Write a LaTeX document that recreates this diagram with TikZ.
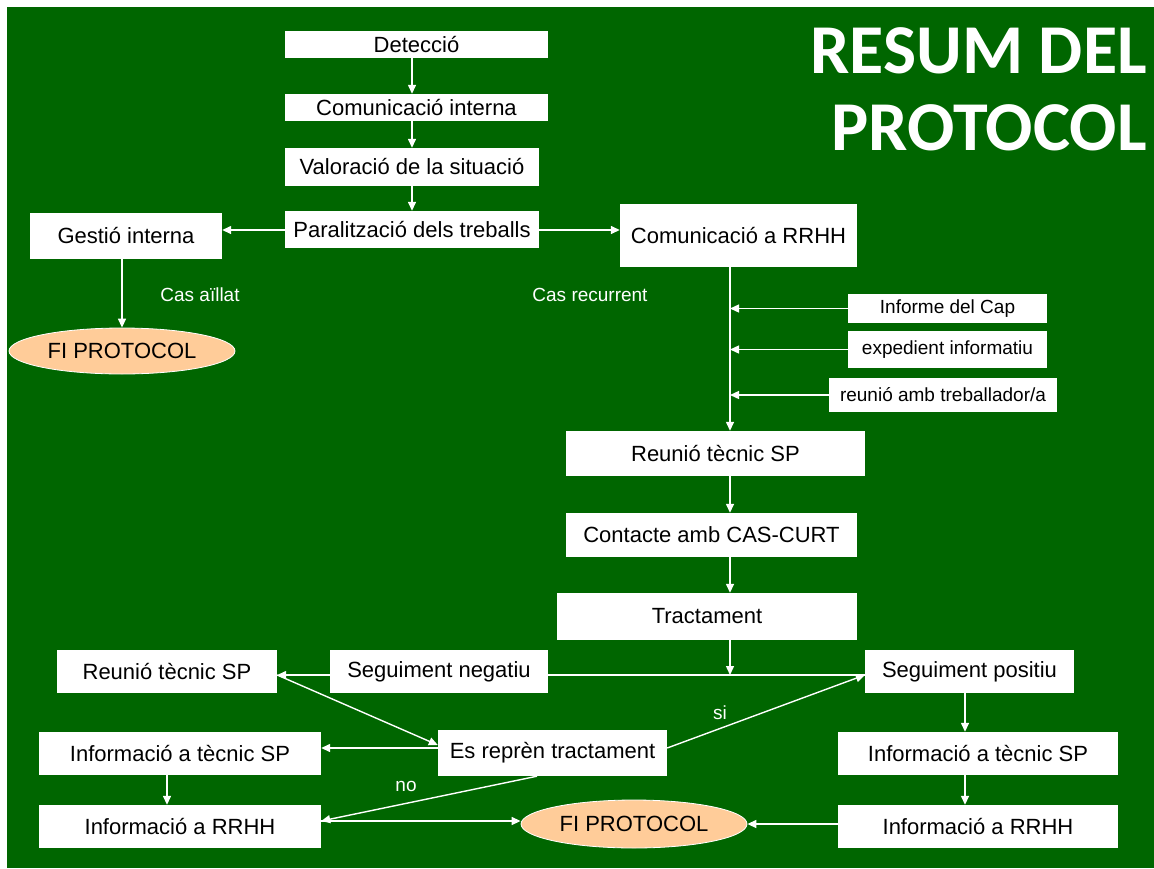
\documentclass[tikz,border=0pt]{standalone}
\usepackage{fontspec}
\setmainfont{Liberation Sans}
\newfontfamily\titlefont{Carlito}
\usetikzlibrary{arrows.meta,shapes.geometric,calc}
\definecolor{bggreen}{RGB}{0,102,0}
\definecolor{peach}{RGB}{255,204,153}
\begin{document}
\begin{tikzpicture}[x=1pt,y=-1pt,
  box/.style={fill=white,inner sep=0pt,font=\fontsize{22}{24}\selectfont,text=black},
  sbox/.style={fill=white,inner sep=0pt,font=\fontsize{19}{21}\selectfont,text=black},
  endell/.style={ellipse,fill=peach,draw=white,line width=0.8pt,inner sep=0pt,font=\fontsize{22}{24}\selectfont,text=black},
  lbl/.style={text=white,font=\fontsize{19}{21}\selectfont,inner sep=0pt},
  arr/.style={draw=white,line width=1.4pt,-{Triangle[length=9pt,width=8pt]}},
  ln/.style={draw=white,line width=1.4pt}]
\useasboundingbox (0,0) rectangle (1154,868);
\fill[white] (0,0) rectangle (1154,868);
\fill[bggreen] (7,7) rectangle (1154,868);
% helper to place boxes by corners
\newcommand{\bx}[7]{\node[#1,minimum width=#5-#3,minimum height=#6-#4] (#2) at ({(#3+#5)/2},{(#4+#6)/2}) {#7};}
\bx{box}{det}{285}{31}{548}{58}{Detecció}
\bx{box}{comi}{285}{94}{548}{121}{Comunicació interna}
\bx{box}{val}{285}{148}{539}{186}{Valoració de la situació}
\bx{box}{par}{285}{211}{539}{248}{Paralització dels treballs}
\bx{box}{gest}{30}{213}{222}{259}{Gestió interna}
\bx{box}{crrhh}{620}{204}{857}{267}{Comunicació a RRHH}
\bx{endell}{fiA}{9}{328}{235}{374}{FI PROTOCOL}
\bx{sbox}{infcap}{848}{294}{1047}{323}{Informe del Cap}
\bx{sbox}{exped}{848}{331}{1047}{368}{expedient informatiu}
\bx{sbox}{reutr}{829}{378}{1057}{412}{reunió amb treballador/a}
\bx{box}{reuT}{566}{431}{865}{476}{Reunió tècnic SP}
\bx{box}{cont}{566}{513}{857}{557}{Contacte amb CAS-CURT}
\bx{box}{trac}{557}{593}{857}{640}{Tractament}
\bx{box}{reuL}{57}{650}{277}{693}{Reunió tècnic SP}
\bx{box}{neg}{330}{650}{548}{693}{Seguiment negatiu}
\bx{box}{pos}{865}{650}{1074}{693}{Seguiment positiu}
\bx{box}{es}{438}{730}{667}{776}{Es reprèn tractament}
\bx{box}{infL}{39}{732}{321}{775}{Informació a tècnic SP}
\bx{box}{rrhhL}{39}{805}{321}{848}{Informació a RRHH}
\bx{endell}{fiB}{521}{800}{747}{848}{FI PROTOCOL}
\bx{box}{infR}{838}{732}{1118}{775}{Informació a tècnic SP}
\bx{box}{rrhhR}{838}{805}{1118}{848}{Informació a RRHH}
% labels
\node[lbl] (lais) at (200,295) {Cas aïllat};
\node[lbl] (lrec) at (590,295) {Cas recurrent};
\node[lbl] (lsi) at (720,713) {si};
\node[lbl] (lno) at (406,786) {no};
% title
\node[text=white,font=\titlefont\bfseries\fontsize{70}{72}\selectfont,anchor=base east,inner sep=0pt] (t1) at (1147,73) {RESUM DEL};
\node[text=white,font=\titlefont\bfseries\fontsize{70}{72}\selectfont,anchor=base east,inner sep=0pt] (t2) at (1147,150) {PROTOCOL};
% helper coordinates
\coordinate (ax) at (412,0);
\coordinate (bx) at (730,0);
\coordinate (cx) at (122,0);
\coordinate (lx) at (167,0);
\coordinate (rx) at (965,0);
\coordinate (yp) at (0,230);
\coordinate (yh) at (0,675);
\coordinate (ye) at (0,748);
\coordinate (yf) at (0,821);
\coordinate (yg) at (0,824);
\coordinate (ydi) at (0,745);
\coordinate (nox) at (537,0);
\coordinate (junc) at (730,675);
% connectors
\draw[arr] (det.south -| ax) -- (comi.north -| ax);
\draw[arr] (comi.south -| ax) -- (val.north -| ax);
\draw[arr] (val.south -| ax) -- (par.north -| ax);
\draw[arr] (par.west |- yp) -- (gest.east |- yp);
\draw[arr] (par.east |- yp) -- (crrhh.west |- yp);
\draw[arr] (gest.south -| cx) -- (fiA.north -| cx);
\draw[arr] (crrhh.south -| bx) -- (reuT.north -| bx);
\draw[arr] (infcap.west) -- (infcap.west -| bx);
\draw[arr] (exped.west) -- (exped.west -| bx);
\draw[arr] (reutr.west) -- (reutr.west -| bx);
\draw[arr] (reuT.south -| bx) -- (cont.north -| bx);
\draw[arr] (cont.south -| bx) -- (trac.north -| bx);
\draw[arr] (trac.south -| bx) -- (junc);
\draw[ln] (neg.east |- yh) -- (pos.west |- yh);
\draw[arr] (neg.west |- yh) -- (reuL.east |- yh);
\draw[arr] (reuL.east |- yh) -- (es.west |- ydi);
\draw[arr] (es.west |- ye) -- (infL.east |- ye);
\draw[arr] (es.south -| nox) -- (rrhhL.east |- yf);
\draw[arr] (infL.south -| lx) -- (rrhhL.north -| lx);
\draw[arr] (rrhhL.east |- yf) -- (fiB.west |- yf);
\draw[arr] (es.east |- ye) -- (pos.west |- yh);
\draw[arr] (pos.south -| rx) -- (infR.north -| rx);
\draw[arr] (infR.south -| rx) -- (rrhhR.north -| rx);
\draw[arr] (rrhhR.west |- yg) -- (fiB.east |- yg);
\end{tikzpicture}
\end{document}
